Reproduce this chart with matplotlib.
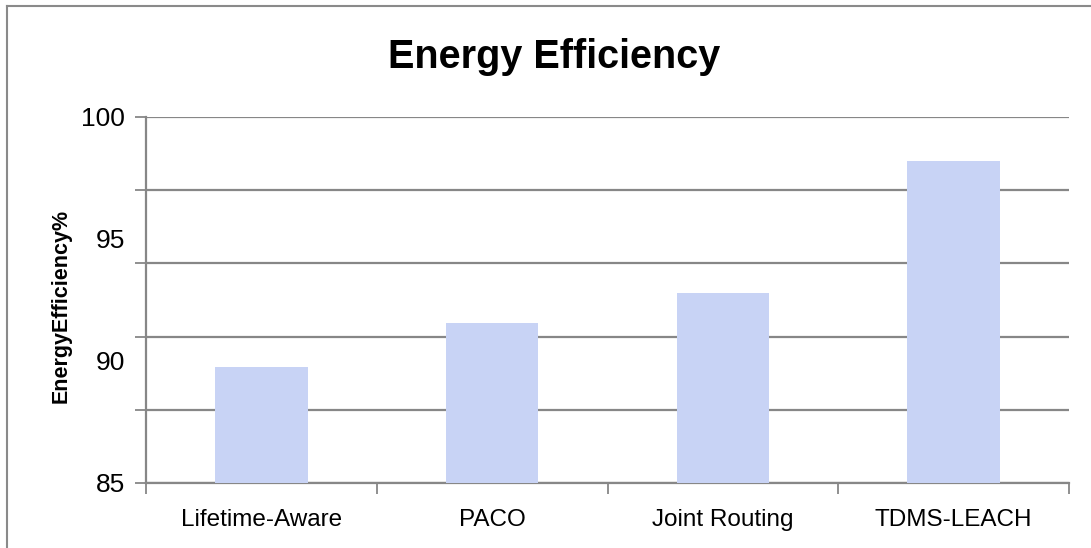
"""
Energy efficiency bar chart
"""

import matplotlib
matplotlib.use('Agg')
from matplotlib import pyplot as plt
from matplotlib.lines import Line2D
import numpy as np

# data
methods = ['Lifetime-Aware', 'PACO', 'Joint Routing', 'TDMS-LEACH']
efficiency = [89.75, 91.55, 92.8, 98.2]
ytick_labels = [85, 90, 95, 100]
grid_levels = [85, 88, 91, 94, 97, 100]

plt.rcParams['font.family'] = ['Liberation Sans', 'DejaVu Sans']

W, H = 1091, 548
fig = plt.figure(figsize=(W / 100, H / 100), dpi=100)
ax = fig.add_axes([146 / W, 1 - 483 / H, (1069 - 146) / W, (483 - 117) / H])

GRID = '#878787'
x = np.arange(len(methods))
ax.bar(x, efficiency, width=0.4, color='#c8d3f5', edgecolor='none', zorder=3)

ax.set_xlim(-0.5, len(methods) - 0.5)
ax.set_ylim(85, 100)

# gridlines every 3, labels every 5 (as in the source chart)
ax.yaxis.remove_overlapping_locs = False
ax.set_yticks(grid_levels)
ax.set_yticklabels([])
ax.yaxis.grid(True, color=GRID, linewidth=1.6, zorder=0)
ax.tick_params(axis='y', which='major', length=8, width=1.3, color=GRID)
ax.set_yticks(ytick_labels, minor=True)
ax.set_yticklabels([str(v) for v in ytick_labels], minor=True)
ax.tick_params(axis='y', which='minor', length=0, pad=15, labelsize=19)

# category boundaries get tick marks, labels sit in the middle
ax.set_xticks(np.arange(len(methods) + 1) - 0.5)
ax.set_xticklabels([])
ax.tick_params(axis='x', which='major', length=8, width=1.3, color=GRID, direction='out')
ax.set_xticks(x, minor=True)
ax.set_xticklabels(methods, minor=True)
ax.tick_params(axis='x', which='minor', length=0, pad=19, labelsize=17.5)

for side in ['top', 'right']:
    ax.spines[side].set_visible(False)
for side in ['left', 'bottom']:
    ax.spines[side].set_color(GRID)
    ax.spines[side].set_linewidth(1.6)

ax.set_ylabel('EnergyEfficiency%', fontsize=15.5, fontweight='bold')
ax.yaxis.set_label_coords(-(146 - 72) / (1069 - 146), 0.485)

fig.text(554 / W, 1 - 57 / H, 'Energy Efficiency', fontsize=28.5, fontweight='bold',
         ha='center', va='center')

# chart-area frame, running off the right and bottom of the picture
fig.add_artist(Line2D([7 / W, 7 / W], [0, 1 - 6 / H], color='#8a8a8a', linewidth=1.5))
fig.add_artist(Line2D([7 / W, 1], [1 - 6 / H, 1 - 6 / H], color='#8a8a8a', linewidth=1.5))

fig.savefig('out.png', dpi=100)
